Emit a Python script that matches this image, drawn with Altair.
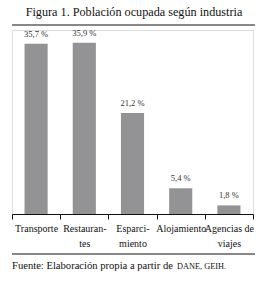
import altair as alt
import pandas as pd

categories = ["Transporte", "Restaurantes", "Esparcimiento", "Alojamiento", "Agencias de viajes"]
label_lines = [["Transporte"], ["Restauran-", "tes"], ["Esparci-", "miento"], ["Alojamiento"], ["Agencias de", "viajes"]]
values = [35.7, 35.9, 21.2, 5.4, 1.8]
value_labels = ["35,7 %", "35,9 %", "21,2 %", "5,4 %", "1,8 %"]
title_text = "Figura 1. Población ocupada según industria"
source_text = "Fuente: Elaboración propia a partir de "
source_caps = "DANE, GEIH."

df = pd.DataFrame({"cat": categories, "val": values, "lab": value_labels})

FONT = "Liberation Serif"
W, H = 241, 184

mapping = "{" + ",".join(f"'{c}': '{'|'.join(l)}'" for c, l in zip(categories, label_lines)) + "}"
label_expr = f"isString({mapping}[datum.value]) ? split({mapping}[datum.value], '|') : ''"

x = alt.X("cat:N", sort=None,
          scale=alt.Scale(paddingInner=0, paddingOuter=0),
          axis=alt.Axis(title=None, labelAngle=0, labelFont=FONT, labelFontSize=10,
                        labelColor="#111", labelPadding=4, labelLineHeight=15,
                        labelExpr=label_expr, tickBand="extent", tickSize=5,
                        tickColor="#111", domainColor="#111", labelBaseline="top"))
y = alt.Y("val:Q", scale=alt.Scale(domain=[0, 38.6], nice=False), axis=None)

bars = alt.Chart(df).mark_bar(color="#939396", width=alt.RelativeBandSize(0.48)).encode(x=x, y=y)
texts = alt.Chart(df).mark_text(font=FONT, fontSize=8.5, color="#333", dy=-5,
                                baseline="bottom").encode(x=x, y=y, text="lab:N")

one = pd.DataFrame({"t": [title_text]})
title = alt.Chart(one).mark_text(font=FONT, fontSize=12.2, color="#111", align="center",
                                 baseline="middle").encode(
    x=alt.value(122), y=alt.value(-18), text="t:N")
top_rule = alt.Chart(one).mark_rule(color="#111", strokeWidth=1).encode(
    x=alt.value(0), x2=alt.value(243), y=alt.value(-5))
bot_rule = alt.Chart(one).mark_rule(color="#111", strokeWidth=1).encode(
    x=alt.value(0), x2=alt.value(243), y=alt.value(40 + H))
src_df = pd.DataFrame({"t": [source_text], "c": [source_caps]})
src = alt.Chart(src_df).mark_text(font=FONT, fontSize=10.6, color="#111", align="left",
                                  baseline="middle").encode(
    x=alt.value(0), y=alt.value(52 + H), text="t:N")
src2 = alt.Chart(src_df).mark_text(font=FONT, fontSize=8.3, color="#111", align="left",
                                   baseline="middle").encode(
    x=alt.value(165), y=alt.value(52.5 + H), text="c:N")

chart = alt.layer(bars, texts, title, top_rule, bot_rule, src, src2).properties(
    width=W, height=H,
    autosize=alt.AutoSizeParams(type="none"),
    padding={"left": 12, "top": 30, "right": 16, "bottom": 69},
).configure_view(stroke=None).configure(background="white")

chart.save("out.html", embed_options={"renderer": "svg", "actions": False})
